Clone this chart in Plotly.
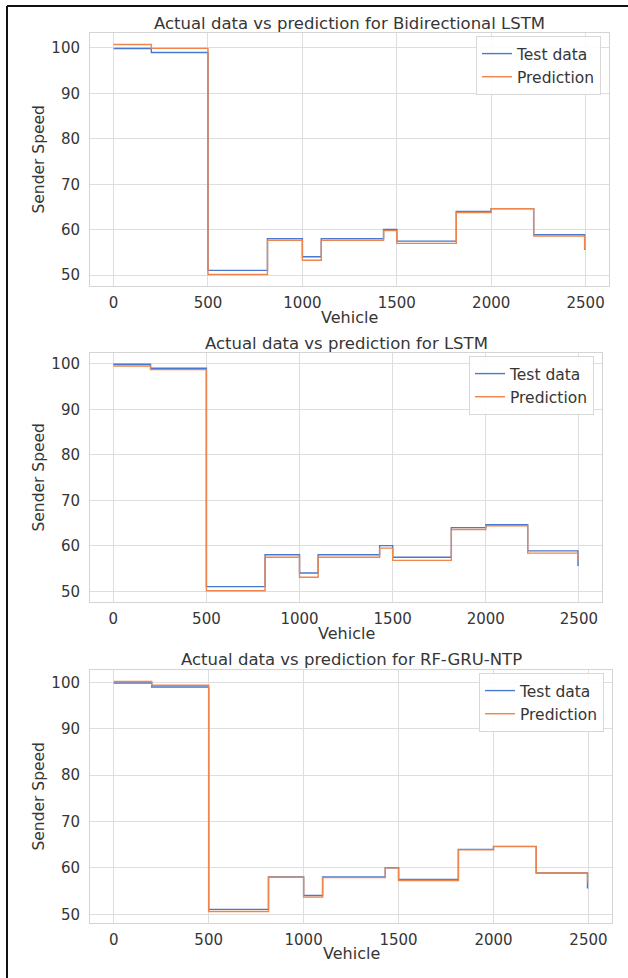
import plotly.graph_objects as go

# Vehicle index where each speed segment starts (step plot, hold value until next index)
vehicle = [0, 200, 500, 815, 1000, 1100, 1430, 1500, 1815, 2000, 2225, 2495, 2499]

# Observed sender speed of the test set
test_speed = [99.87, 99.0, 51.05, 58.05, 54.05, 58.05, 60.05, 57.5, 64.0, 64.65, 58.9, 55.7, 55.7]

# Model predictions
pred_bilstm = [100.75, 99.9, 50.15, 57.7, 53.3, 57.7, 59.8, 57.0, 63.8, 64.6, 58.6, 55.8, 55.8]
pred_lstm = [99.5, 98.7, 50.15, 57.5, 53.1, 57.5, 59.5, 56.8, 63.6, 64.4, 58.4, 57.0, 57.0]
pred_rfgru = [100.2, 99.4, 50.6, 58.0, 53.7, 57.9, 60.0, 57.3, 63.9, 64.6, 58.9, 57.0, 57.0]

titles = [
    "Actual data vs prediction for Bidirectional LSTM",
    "Actual data vs prediction for LSTM",
    "Actual data vs prediction for RF-GRU-NTP",
]
predictions = [pred_bilstm, pred_lstm, pred_rfgru]

W, H = 628, 978
BLUE = "#4878d0"
ORANGE = "#ee854a"
TXT = "#363636"
GRID = "#dedede"
FONT = "DejaVu Sans"

# pixel boxes of each panel: (left, right, top, bottom)
panels = [(90, 609, 33, 286), (90, 602, 353, 602), (90, 612, 670, 923)]
title_y = [23, 343, 659]
xlabel_y = [317, 633, 953]


def px(x):
    return x / W


def py(y):
    return 1 - y / H


fig = go.Figure()
annotations = []
layout_axes = {}

for i, (pred, title, box, ty, xy) in enumerate(zip(predictions, titles, panels, title_y, xlabel_y)):
    n = "" if i == 0 else str(i + 1)
    leg = "legend" if i == 0 else f"legend{i + 1}"
    l, r, t, b = box
    fig.add_trace(go.Scatter(x=vehicle, y=test_speed, mode="lines", line=dict(color=BLUE, width=1.4, shape="hv"),
                             name="Test data", xaxis="x" + n, yaxis="y" + n, legend=leg))
    fig.add_trace(go.Scatter(x=vehicle, y=pred, mode="lines", line=dict(color=ORANGE, width=1.4, shape="hv"),
                             name="Prediction", xaxis="x" + n, yaxis="y" + n, legend=leg))

    lo = min(min(test_speed), min(pred))
    hi = max(max(test_speed), max(pred))
    pad = 0.05 * (hi - lo)
    xpad = 0.05 * (vehicle[-1] - vehicle[0])

    common = dict(showgrid=True, gridcolor=GRID, gridwidth=1, showline=True, linecolor="#d4d4d4",
                  linewidth=1, mirror=True, zeroline=False, ticks="",
                  tickfont=dict(family=FONT, size=15, color=TXT))
    layout_axes["xaxis" + n] = dict(domain=[px(l), px(r)], anchor="y" + n,
                                    range=[vehicle[0] - xpad, vehicle[-1] + xpad],
                                    tickmode="array", tickvals=[0, 500, 1000, 1500, 2000, 2500],
                                    ticklabelstandoff=3, **common)
    layout_axes["yaxis" + n] = dict(domain=[py(b), py(t)], anchor="x" + n,
                                    range=[lo - pad, hi + pad],
                                    tickmode="array", tickvals=[50, 60, 70, 80, 90, 100],
                                    ticklabelstandoff=6, **common)

    layout_axes[leg] = dict(x=px(r - 8), y=py(t + 3), xanchor="right", yanchor="top",
                            bgcolor="rgba(255,255,255,0.9)", bordercolor="#d8d8d8", borderwidth=1,
                            font=dict(family=FONT, size=15.5, color=TXT), tracegroupgap=0,
                            itemwidth=30)

    annotations.append(dict(text=title, x=px((l + r) / 2), y=py(ty), xref="paper", yref="paper",
                            xanchor="center", yanchor="middle", showarrow=False,
                            font=dict(family=FONT, size=16.5, color=TXT)))
    annotations.append(dict(text="Vehicle", x=px((l + r) / 2), y=py(xy), xref="paper", yref="paper",
                            xanchor="center", yanchor="middle", showarrow=False,
                            font=dict(family=FONT, size=16, color=TXT)))
    annotations.append(dict(text="Sender Speed", x=px(38), y=py((t + b) / 2), xref="paper", yref="paper",
                            xanchor="center", yanchor="middle", textangle=-90, showarrow=False,
                            font=dict(family=FONT, size=15.5, color=TXT)))

# outer frame lines on the left and top edges
shapes = [
    dict(type="line", xref="paper", yref="paper", x0=px(7), x1=px(7), y0=0, y1=py(6),
         line=dict(color="#111111", width=2)),
    dict(type="line", xref="paper", yref="paper", x0=px(7), x1=1, y0=py(6), y1=py(6),
         line=dict(color="#111111", width=2)),
]

fig.update_layout(
    width=W, height=H,
    margin=dict(l=0, r=0, t=0, b=0),
    paper_bgcolor="white", plot_bgcolor="white",
    showlegend=True,
    annotations=annotations,
    shapes=shapes,
    **layout_axes,
)

fig.write_html("out.html")
